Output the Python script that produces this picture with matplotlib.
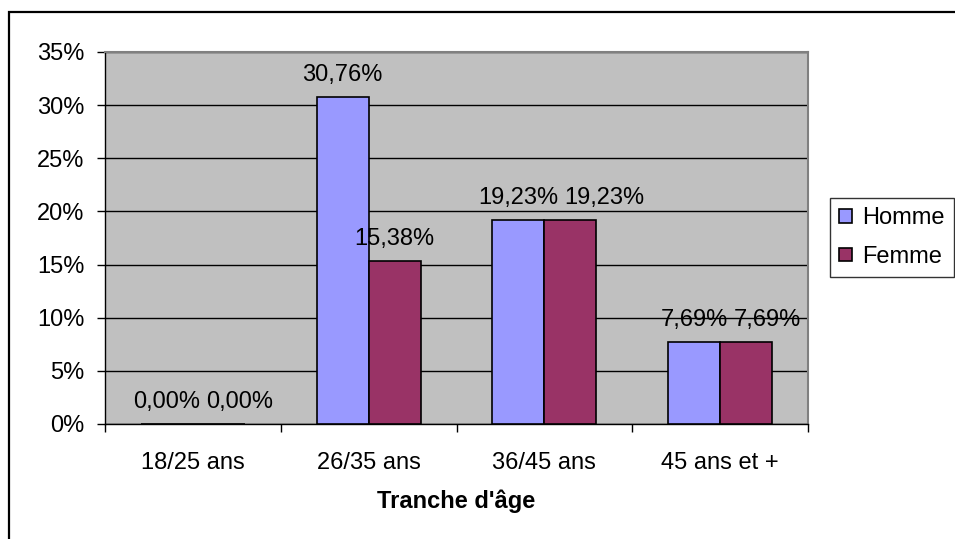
import matplotlib.pyplot as plt
import numpy as np
from matplotlib.patches import Rectangle

plt.rcParams['font.family'] = ['Liberation Sans', 'DejaVu Sans']

# age brackets and share of respondents (%) per gender
categories = ['18/25 ans', '26/35 ans', '36/45 ans', '45 ans et +']
homme = [0.00, 30.76, 19.23, 7.69]
femme = [0.00, 15.38, 19.23, 7.69]
series_names = ['Homme', 'Femme']
colors = ['#9999FF', '#993366']
yticks = [0, 5, 10, 15, 20, 25, 30, 35]

FS = 17

fig = plt.figure(figsize=(9.55, 5.39), dpi=100)
fig.patch.set_facecolor('white')

# outer chart frame
fig.patches.append(Rectangle((9 / 955, -0.1), 1.2, 1 - 12 / 539 + 0.1,
                             transform=fig.transFigure, fill=False,
                             edgecolor='black', linewidth=1.6))

ax = fig.add_axes([105 / 955, 115 / 539, 703 / 955, 372 / 539])
ax.set_facecolor('#C0C0C0')

x = np.arange(len(categories))
w = 0.296
bars_h = ax.bar(x - w / 2, homme, w, color=colors[0], edgecolor='black',
                linewidth=1.2, label=series_names[0], zorder=3)
bars_f = ax.bar(x + w / 2, femme, w, color=colors[1], edgecolor='black',
                linewidth=1.2, label=series_names[1], zorder=3)

# value labels above each bar
labels = []
for bars, vals in [(bars_h, homme), (bars_f, femme)]:
    row = []
    for b, v in zip(bars, vals):
        t = ax.annotate(f'{v:.2f}%'.replace('.', ','),
                        (b.get_x() + b.get_width() / 2, v),
                        xytext=(0, 11.5), textcoords='offset points',
                        ha='center', va='baseline', fontsize=FS, zorder=4)
        row.append(t)
    labels.append(row)

ax.set_xlim(-0.5, len(categories) - 0.5)
ax.set_ylim(0, 35)
ax.set_yticks(yticks)
ax.set_yticklabels([f'{t}%' for t in yticks])
ax.yaxis.grid(True, color='black', linewidth=1.0, zorder=1)
ax.set_axisbelow(True)

# tick marks between categories, labels centred under each group
ax.set_xticks(np.arange(len(categories) + 1) - 0.5)
ax.set_xticklabels([])
ax.set_xticks(x, minor=True)
ax.set_xticklabels(categories, minor=True)
ax.tick_params(axis='x', which='major', length=5.8, width=1, color='black')
ax.tick_params(axis='x', which='minor', length=0, pad=20.5, labelsize=FS)
ax.tick_params(axis='y', length=5.8, width=1, pad=9, labelsize=FS)

ax.set_xlabel("Tranche d'âge", fontsize=FS, fontweight='bold', labelpad=11)

for side in ['left', 'bottom']:
    ax.spines[side].set_color('black')
    ax.spines[side].set_linewidth(1.0)
for side in ['top', 'right']:
    ax.spines[side].set_color('#808080')
    ax.spines[side].set_linewidth(1.5)

leg = fig.legend(loc='upper left', bbox_to_anchor=(830 / 955, 1 - 198 / 539),
                 fontsize=FS, frameon=True, fancybox=False, shadow=False,
                 edgecolor='black', handlelength=0.52, handleheight=0.52,
                 handletextpad=0.45, labelspacing=0.7, borderpad=0.4,
                 borderaxespad=0)
leg.get_frame().set_linewidth(1.0)

# push apart labels sitting side by side at the same height
fig.canvas.draw()
renderer = fig.canvas.get_renderer()
for th, tf in zip(labels[0], labels[1]):
    bh = th.get_window_extent(renderer)
    bf = tf.get_window_extent(renderer)
    overlap = bh.x1 + 6 - bf.x0
    if abs(bh.y0 - bf.y0) < 1 and overlap > 0:
        shift = overlap * 72 / fig.dpi
        tf.set_position((shift, 11.5))

fig.savefig('out.png', dpi=100, facecolor='white')
